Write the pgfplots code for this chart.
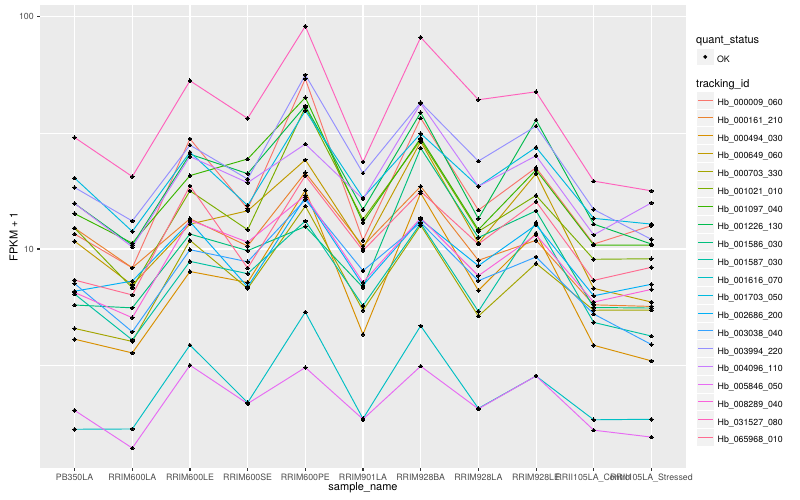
\documentclass[border=0pt]{standalone}
\usepackage{fontspec}
\setmainfont{TeX Gyre Heros}
\usepackage{pgfplots}
\pgfplotsset{compat=1.18}

\definecolor{panelbg}{HTML}{EBEBEB}
\definecolor{keybg}{HTML}{F2F2F2}
\definecolor{tickc}{HTML}{333333}
\definecolor{labc}{HTML}{4D4D4D}
\definecolor{c01}{HTML}{F8766D}
\definecolor{c02}{HTML}{EA8331}
\definecolor{c03}{HTML}{D89000}
\definecolor{c04}{HTML}{C09B00}
\definecolor{c05}{HTML}{A3A500}
\definecolor{c06}{HTML}{7CAE00}
\definecolor{c07}{HTML}{39B600}
\definecolor{c08}{HTML}{00BB4E}
\definecolor{c09}{HTML}{00BF7D}
\definecolor{c10}{HTML}{00C1A3}
\definecolor{c11}{HTML}{00BFC4}
\definecolor{c12}{HTML}{00BAE0}
\definecolor{c13}{HTML}{00B0F6}
\definecolor{c14}{HTML}{35A2FF}
\definecolor{c15}{HTML}{9590FF}
\definecolor{c16}{HTML}{C77CFF}
\definecolor{c17}{HTML}{E76BF3}
\definecolor{c18}{HTML}{FA62DB}
\definecolor{c19}{HTML}{FF62BC}
\definecolor{c20}{HTML}{FF6C91}

\pgfplotsset{
  gg/.style={line width=0.95pt, mark=*, mark size=1.8pt,
    mark options={draw=black, fill=black, line width=0pt}},
}

\begin{document}
\begin{tikzpicture}
\begin{axis}[
  at={(40pt,32pt)}, anchor=south west,
  scale only axis, width=646pt, height=463pt,
  set layers, mark layer=axis foreground,
  xmin=-0.6, xmax=10.6,
  ymode=log, ymin=1.141, ymax=112.3,
  axis background/.style={fill=panelbg},
  axis line style={draw=none},
  xtick={0,...,10},
  xticklabels={PB350LA,RRIM600LA,RRIM600LE,RRIM600SE,RRIM600PE,RRIM901LA,RRIM928BA,RRIM928LA,RRIM928LE,RRII105LA\_Control,RRII105LA\_Stressed},
  ytick={10,100}, yticklabels={10,100},
  minor ytick={3.1623,31.623},
  tick pos=left, tick align=outside,
  major tick length=2.75pt, minor tick length=0pt,
  tick style={draw=tickc, line width=1.07pt},
  grid=both,
  major grid style={draw=white, line width=1.07pt},
  minor grid style={draw=white, line width=0.53pt},
  tick label style={font=\fontsize{8.8}{10}\selectfont, text=labc},
  xlabel={sample\_name}, ylabel={FPKM + 1},
  label style={font=\fontsize{11}{13}\selectfont},
  xlabel style={at={(axis description cs:0.5,-0.0432)}, anchor=center},
  ylabel style={at={(axis description cs:-0.0409,0.5)}, anchor=center},
  legend cell align=left,
  legend style={at={(1.01749,0.8123)}, anchor=north west, draw=none, fill=none,
    inner sep=0pt, outer sep=0pt, row sep=1.2pt, column sep=3.9pt,
    font=\fontsize{8.8}{10}\selectfont, nodes={inner sep=0pt}},
  legend image code/.code={
    \fill[keybg] (0pt,-4.8pt) rectangle (15.5pt,10.8pt);
    \draw[#1, line width=1.1pt] (0.7pt,3pt) -- (14.8pt,3pt);},
]
\addplot[gg, c01] coordinates {(0,11.6)(1,8.3)(2,29.8)(3,14.9)(4,54.0)(5,10.9)(6,36.6)(7,14.7)(8,22.4)(9,10.5)(10,12.6)};
\addlegendentry{Hb\_000009\_060}
\addplot[gg, c02] coordinates {(0,12.3)(1,8.3)(2,13.5)(3,10.3)(4,21.3)(5,10.3)(6,18.6)(7,8.94)(8,10.9)(9,5.75)(10,5.66)};
\addlegendentry{Hb\_000161\_210}
\addplot[gg, c03] coordinates {(0,4.09)(1,3.57)(2,8.0)(3,7.18)(4,17.9)(5,4.29)(6,17.4)(7,6.63)(8,11.7)(9,3.85)(10,3.3)};
\addlegendentry{Hb\_000494\_030}
\addplot[gg, c04] coordinates {(0,10.8)(1,7.0)(2,12.8)(3,14.6)(4,24.2)(5,10.07)(6,29.0)(7,10.6)(8,21.1)(9,6.77)(10,5.91)};
\addlegendentry{Hb\_000649\_060}
\addplot[gg, c05] coordinates {(0,4.55)(1,4.0)(2,10.9)(3,6.76)(4,15.3)(5,5.44)(6,12.65)(7,5.14)(8,8.67)(9,5.45)(10,5.46)};
\addlegendentry{Hb\_000703\_330}
\addplot[gg, c06] coordinates {(0,12.3)(1,6.8)(2,17.8)(3,12.1)(4,40.8)(5,13.4)(6,29.5)(7,11.9)(8,17.0)(9,9.03)(10,9.08)};
\addlegendentry{Hb\_001021\_010}
\addplot[gg, c07] coordinates {(0,14.2)(1,10.6)(2,20.7)(3,24.4)(4,44.9)(5,13.0)(6,30.0)(7,12.1)(8,21.9)(9,10.4)(10,10.4)};
\addlegendentry{Hb\_001097\_040}
\addplot[gg, c08] coordinates {(0,15.7)(1,10.4)(2,25.6)(3,21.1)(4,41.3)(5,14.8)(6,38.7)(7,13.5)(8,35.9)(9,12.8)(10,10.5)};
\addlegendentry{Hb\_001226\_130}
\addplot[gg, c09] coordinates {(0,5.74)(1,5.58)(2,11.6)(3,9.84)(4,12.5)(5,6.83)(6,27.2)(7,11.2)(8,14.6)(9,5.6)(10,5.57)};
\addlegendentry{Hb\_001586\_030}
\addplot[gg, c10] coordinates {(0,6.4)(1,4.06)(2,8.85)(3,7.83)(4,13.2)(5,5.70)(6,12.9)(7,5.39)(8,13.0)(9,4.83)(10,4.22)};
\addlegendentry{Hb\_001587\_030}
\addplot[gg, c11] coordinates {(0,1.675)(1,1.68)(2,3.86)(3,2.18)(4,5.35)(5,1.86)(6,4.67)(7,2.06)(8,2.84)(9,1.84)(10,1.85)};
\addlegendentry{Hb\_001616\_070}
\addplot[gg, c12] coordinates {(0,20.2)(1,11.9)(2,26.1)(3,15.4)(4,39.4)(5,16.6)(6,31.4)(7,18.6)(8,27.4)(9,13.55)(10,12.8)};
\addlegendentry{Hb\_001703\_050}
\addplot[gg, c13] coordinates {(0,6.58)(1,7.28)(2,13.1)(3,6.87)(4,16.7)(5,6.97)(6,13.4)(7,8.47)(8,12.7)(9,6.29)(10,7.05)};
\addlegendentry{Hb\_002686\_200}
\addplot[gg, c14] coordinates {(0,7.1)(1,4.4)(2,9.93)(3,8.81)(4,16.3)(5,8.06)(6,13.0)(7,7.3)(8,9.24)(9,5.25)(10,3.88)};
\addlegendentry{Hb\_003038\_040}
\addplot[gg, c15] coordinates {(0,18.4)(1,13.2)(2,28.0)(3,20.0)(4,56.2)(5,21.2)(6,42.7)(7,23.9)(8,33.8)(9,14.8)(10,11.0)};
\addlegendentry{Hb\_003994\_220}
\addplot[gg, c16] coordinates {(0,15.7)(1,10.2)(2,25.0)(3,19.3)(4,28.3)(5,16.4)(6,42.3)(7,18.6)(8,25.2)(9,11.5)(10,15.8)};
\addlegendentry{Hb\_004096\_110}
\addplot[gg, c17] coordinates {(0,2.02)(1,1.39)(2,3.16)(3,2.16)(4,3.09)(5,1.85)(6,3.13)(7,2.05)(8,2.84)(9,1.66)(10,1.55)};
\addlegendentry{Hb\_005846\_050}
\addplot[gg, c18] coordinates {(0,6.5)(1,5.06)(2,13.3)(3,10.7)(4,17.0)(5,7.18)(6,13.6)(7,7.67)(8,11.5)(9,5.91)(10,6.7)};
\addlegendentry{Hb\_008289\_040}
\addplot[gg, c19] coordinates {(0,30.2)(1,20.5)(2,53)(3,36.5)(4,91)(5,23.7)(6,81.5)(7,43.9)(8,47.5)(9,19.6)(10,17.8)};
\addlegendentry{Hb\_031527\_080}
\addplot[gg, c20] coordinates {(0,7.35)(1,6.34)(2,18.7)(3,8.28)(4,20.7)(5,9.84)(6,17.7)(7,10.5)(8,16.0)(9,7.33)(10,8.34)};
\addlegendentry{Hb\_065968\_010}
\end{axis}

% second legend: quant_status
\begin{axis}[
  at={(40pt,32pt)}, anchor=south west,
  scale only axis, width=646pt, height=463pt,
  xmin=0, xmax=1, ymin=0, ymax=1,
  axis line style={draw=none}, ticks=none,
  legend cell align=left,
  legend style={at={(1.01749,0.9052)}, anchor=north west, draw=none, fill=none,
    inner sep=0pt, outer sep=0pt, column sep=3.9pt,
    font=\fontsize{8.8}{10}\selectfont, nodes={inner sep=0pt}},
  legend image code/.code={
    \fill[keybg] (0pt,-4.8pt) rectangle (15.5pt,10.8pt);
    \draw[#1] plot coordinates {(7.75pt,3pt)};},
]
\addplot[draw=none, forget plot] coordinates {(0.5,0.5)};
\addlegendimage{black, mark=*, mark size=1.8pt}
\addlegendentry{OK}
\end{axis}

\node[anchor=west, inner sep=0pt, font=\fontsize{11}{13}\selectfont] at (696pt,459.3pt) {quant\_status};
\node[anchor=west, inner sep=0pt, font=\fontsize{11}{13}\selectfont] at (696pt,415.7pt) {tracking\_id};
\path (0,0) rectangle (800pt,500pt);
\end{tikzpicture}
\end{document}
